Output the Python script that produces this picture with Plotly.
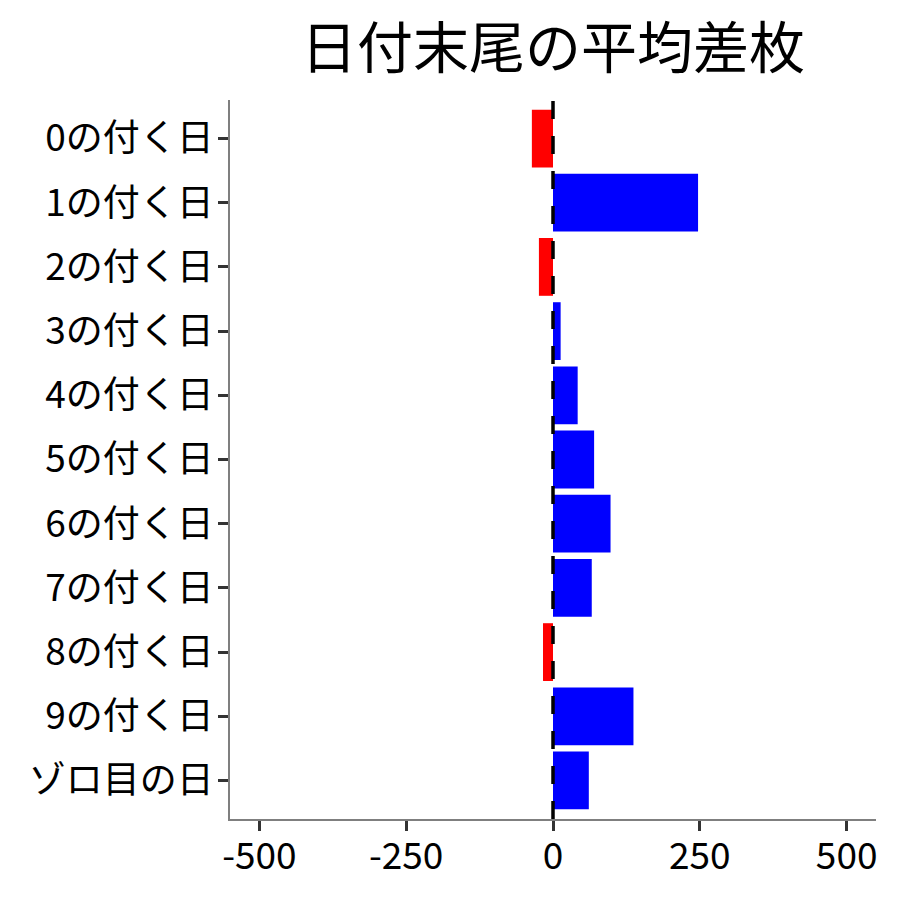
import plotly.graph_objects as go

categories = ["0の付く日", "1の付く日", "2の付く日", "3の付く日", "4の付く日",
              "5の付く日", "6の付く日", "7の付く日", "8の付く日", "9の付く日", "ゾロ目の日"]
values = [-36, 247, -24, 13, 42, 70, 98, 66, -17, 137, 61]
x_ticks = [-500, -250, 0, 250, 500]
title_text = "日付末尾の平均差枚"

colors = ["red" if v < 0 else "blue" for v in values]
FONT = "Noto Sans CJK JP"

fig = go.Figure()
fig.add_trace(go.Bar(
    y=categories, x=values, orientation="h",
    marker=dict(color=colors, line=dict(width=0)),
    width=0.9, showlegend=False, hoverinfo="x+y",
))

fig.add_shape(type="line", xref="x", yref="paper", x0=0, x1=0, y0=0, y1=1,
              line=dict(color="black", width=3.5, dash="18px,17px"), layer="above")

fig.update_layout(
    width=900, height=900,
    margin=dict(l=222, r=32, t=92, b=89),
    plot_bgcolor="white", paper_bgcolor="white",
    font=dict(family=FONT, color="black", size=37),
    title=dict(text=title_text, x=0.5, xref="paper", xanchor="center",
               y=1 - 40 / 900, yanchor="middle",
               font=dict(family=FONT, size=56, color="black")),
    bargap=0.1,
)
fig.update_xaxes(
    range=[-550, 550], tickvals=x_ticks, ticktext=[str(t) for t in x_ticks],
    showgrid=False, zeroline=False,
    showline=True, linecolor="#7f7f7f", linewidth=1.5,
    ticks="outside", ticklen=10, tickwidth=2.5, tickcolor="#333333",
    ticklabelstandoff=-6,
    tickfont=dict(family=FONT, size=37, color="black"),
)
fig.update_yaxes(
    categoryorder="array", categoryarray=categories,
    range=[10.6, -0.6],
    showgrid=False, zeroline=False,
    showline=True, linecolor="#7f7f7f", linewidth=1.5,
    ticks="outside", ticklen=10, tickwidth=2.5, tickcolor="#333333",
    ticklabelstandoff=-3,
    tickfont=dict(family=FONT, size=37, color="black"),
)

fig.write_html("out.html")
